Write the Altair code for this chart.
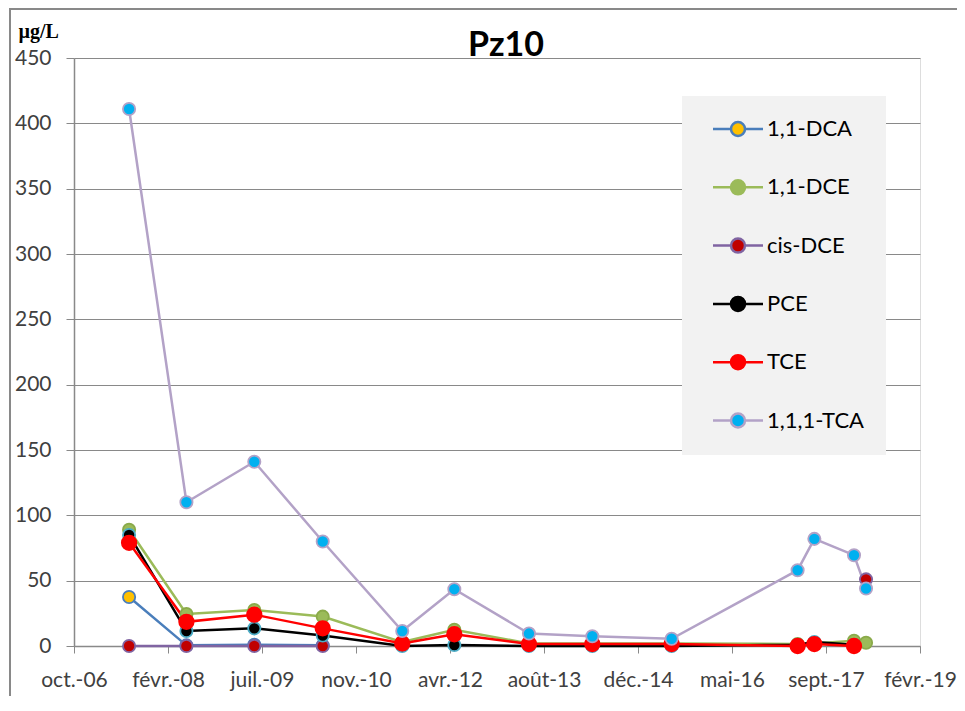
import altair as alt
import pandas as pd

# ---- data ----
dates = ["2007-07-30", "2008-05-30", "2009-05-26", "2010-05-25", "2011-07-22",
         "2012-04-24", "2013-05-26", "2014-04-28", "2015-06-24", "2017-04-24",
         "2017-07-22", "2018-02-18", "2018-04-23"]

series_names = ["1,1-DCA", "1,1-DCE", "cis-DCE", "PCE", "TCE", "1,1,1-TCA"]

dca = [37.5, 0.5, 1, 0.5, None, None, None, None, None, None, None, None, None]
dce = [89, 24.5, 27.5, 22.5, 3, 12.5, 2, 2, 2, 1.5, 2, 4, 2.5]
cis_dce = [0, 0, 0, 0, None, None, None, None, None, None, None, None, 51]
pce = [85, 11.5, 13.5, 8, 0, 0.8, 0, 0, 0, 1, 3, 1, None]
tce = [79, 18.5, 24, 13.5, 2, 9, 1.5, 1.5, 1.5, 0, 1.5, 0, None]
tca = [411, 110, 141, 80, 11.5, 43.5, 9.5, 7.5, 5.5, 58, 82, 69.5, 44]

line_colors = ["#4a7ebb", "#9bbb59", "#8064a2", "#000000", "#ff0000", "#b3a2c7"]
fill_colors = ["#ffc000", "#9bbb59", "#c00000", "#000000", "#ff0000", "#00b0f0"]
outline_colors = ["#4a7ebb", "#8aaa4a", "#8064a2", "#4bacc6", "#ff0000", "#b3a2c7"]
marker_sizes = [150, 150, 150, 150, 210, 150]

month_labels = ["janv.", "févr.", "mars", "avr.", "mai", "juin", "juil.",
                "août", "sept.", "oct.", "nov.", "déc."]

# ---- long table ----
rows = []
all_vals = [dca, dce, cis_dce, pce, tce, tca]
for s, vals, oc, ms in zip(series_names, all_vals, outline_colors, marker_sizes):
    seg = 0
    prev_none = True
    for d, v in zip(dates, vals):
        if v is None:
            prev_none = True
            continue
        if prev_none:
            seg += 1
        prev_none = False
        rows.append({"date": d, "series": s, "value": v,
                     "seg": f"{s}-{seg}", "outline": oc, "msize": ms})
df = pd.DataFrame(rows)

# x axis ticks every 500 days from 2006-10-10 (Excel serial 39000)
tick_dates = pd.date_range("2006-10-10", periods=10, freq="500D")
tick_vals = [alt.DateTime(year=t.year, month=t.month, date=t.day) for t in tick_dates]

font = "Lato"
grey = "#898989"
month_arr = "[" + ",".join(f"'{m}'" for m in month_labels) + "]"

x_enc = alt.X(
    "date:T",
    scale=alt.Scale(domain=[tick_vals[0], tick_vals[-1]]),
    axis=alt.Axis(
        values=tick_vals, title=None, grid=False,
        labelExpr=month_arr + "[month(datum.value)] + '-' + timeFormat(datum.value, '%y')",
        tickSize=7, tickColor=grey, domainColor=grey, domainWidth=1.5,
        labelFont=font, labelFontSize=21, labelColor="#404040",
        labelPadding=16, labelFlush=False, labelOverlap=False,
    ),
)
y_enc = alt.Y(
    "value:Q",
    scale=alt.Scale(domain=[0, 450], nice=False),
    axis=alt.Axis(
        values=list(range(0, 451, 50)), grid=True, gridColor=grey, gridWidth=1.2,
        tickSize=8, tickColor=grey, domainColor=grey, domainWidth=1.5,
        labelFont=font, labelFontSize=21, labelColor="#404040", labelPadding=15,
        title="µg/L", titleAngle=0, titleAlign="left", titleBaseline="alphabetic",
        titleX=-56, titleY=-21, titleFont="Liberation Serif", titleFontWeight="bold",
        titleFontSize=20, titleColor="#000000",
    ),
)

# legend symbol: line with a circle marker in the middle
legend_path = ("M-0.25,0L2,0M3.75,0L6,0"
               "M2,0A0.875,0.875,0,1,1,3.75,0A0.875,0.875,0,1,1,2,0Z")
legend = alt.Legend(
    title=None, orient="none", legendX=608, legendY=38,
    fillColor="#f2f2f2", padding=22,
    symbolType=legend_path, symbolSize=256, symbolStrokeWidth=2.5, symbolOpacity=1,
    labelFont=font, labelFontSize=22, labelColor="#000000", labelOffset=41,
    rowPadding=34.3,
)

lines = alt.Chart(df).mark_line(strokeWidth=2.5).encode(
    x=x_enc, y=y_enc,
    stroke=alt.Stroke("series:N", scale=alt.Scale(domain=series_names, range=line_colors),
                      legend=legend),
    detail="seg:N",
    order=alt.Order("date:T"),
)

points = alt.Chart(df).mark_point(filled=True, opacity=1, strokeWidth=1.8, shape="circle").encode(
    x=x_enc, y=y_enc,
    fill=alt.Fill("series:N", scale=alt.Scale(domain=series_names, range=fill_colors),
                  legend=legend),
    stroke=alt.Stroke("outline:N", scale=None),
    size=alt.Size("msize:Q", scale=None),
)

frame_left = alt.Chart(df).mark_rule(color=grey, strokeWidth=2).encode(
    x=alt.value(-64), y=alt.value(-50), y2=alt.value(700)
)
frame_top = alt.Chart(df).mark_rule(color=grey, strokeWidth=2).encode(
    x=alt.value(-64), x2=alt.value(900), y=alt.value(-49)
)

chart = alt.layer(frame_left, frame_top, lines, points).properties(
    width=846, height=588,
    title=alt.Title("Pz10", font=font, fontSize=34, fontWeight="bold", color="#000000",
                    anchor="middle", dx=9, dy=86, offset=3, baseline="alphabetic",
                    frame="group"),
    autosize=alt.AutoSizeParams(type="none"),
    padding={"left": 66, "top": 50, "right": 37, "bottom": 50},
).configure_view(stroke=None).configure(background="white")

chart.save("out.html", embed_options={"renderer": "svg", "actions": False})
